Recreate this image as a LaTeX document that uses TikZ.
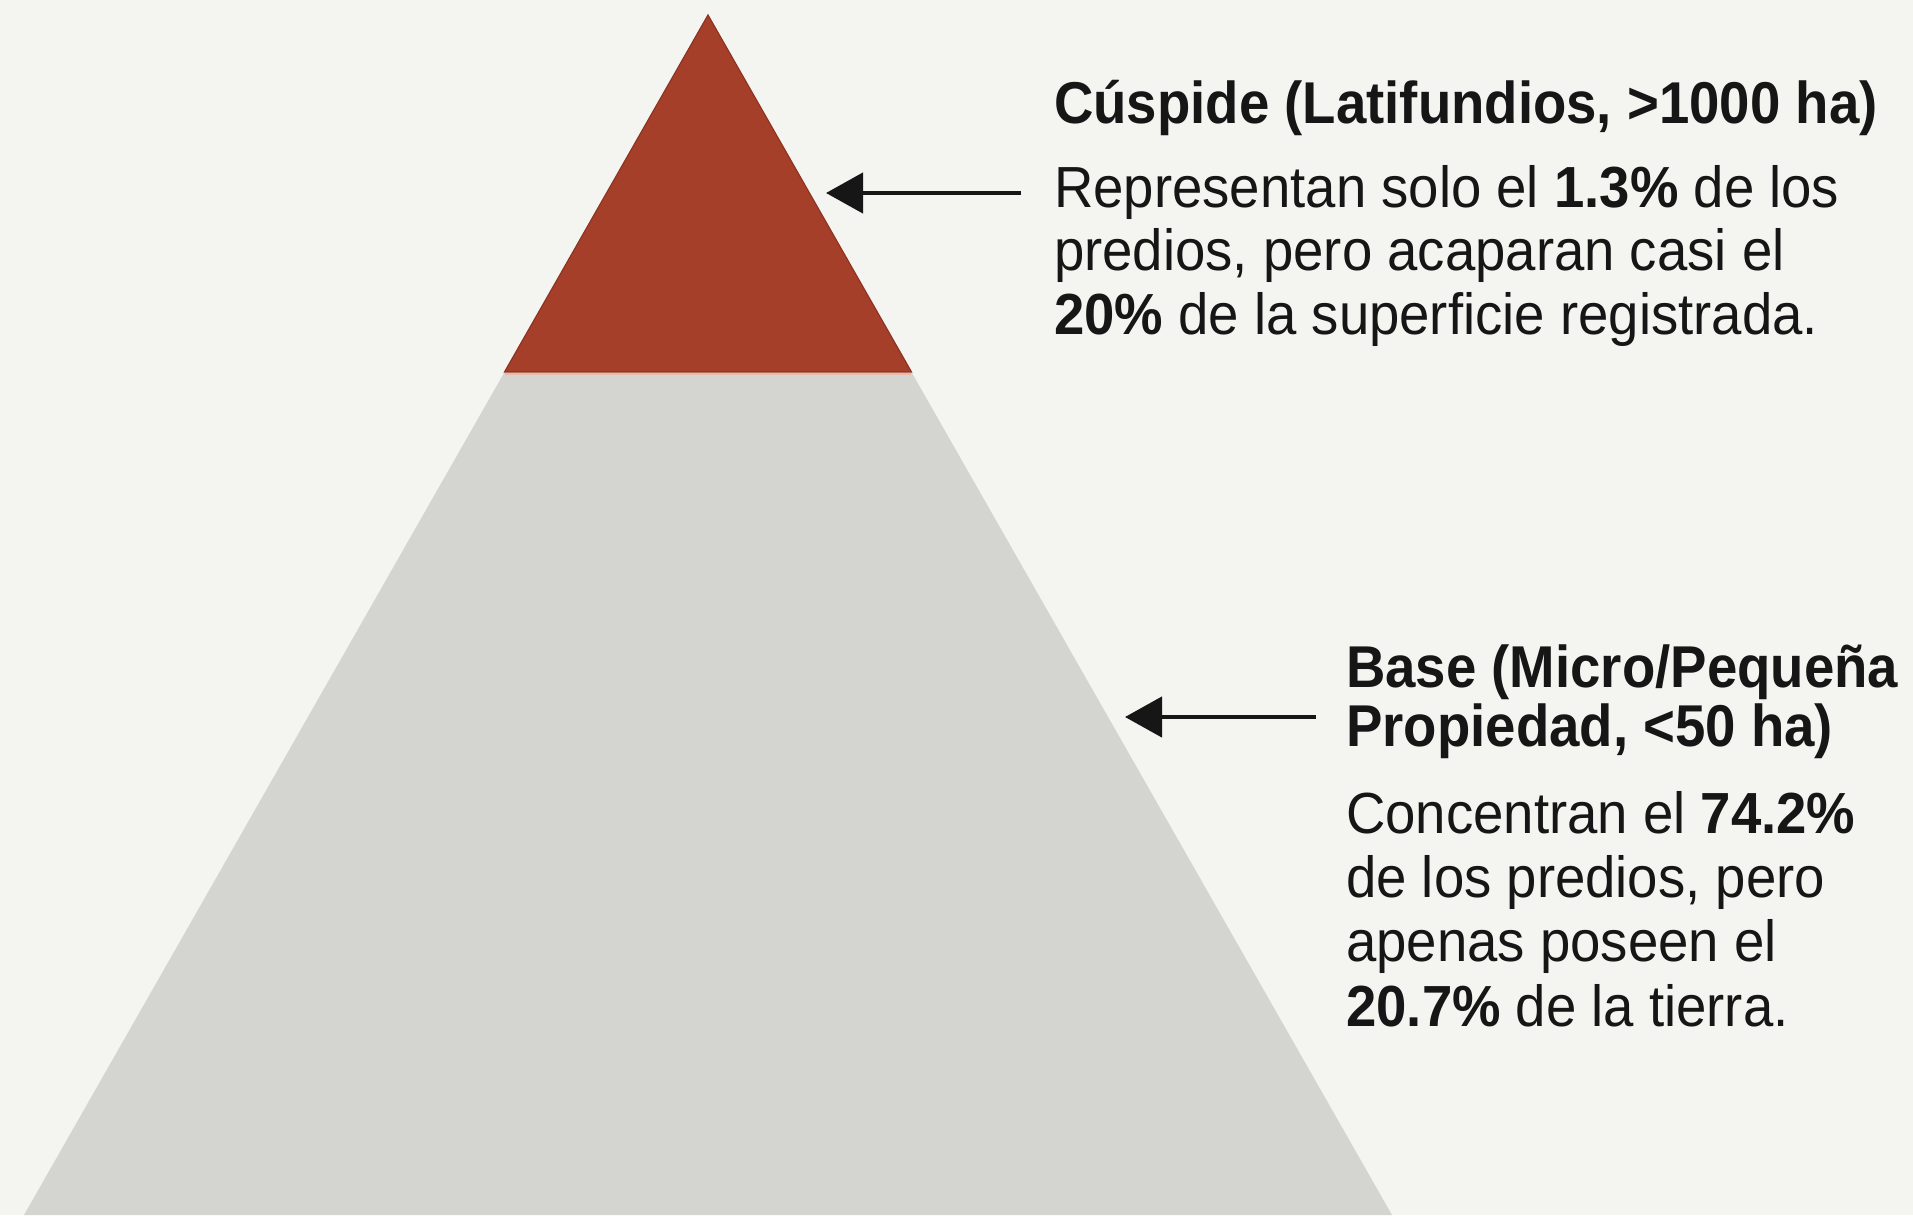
\documentclass[tikz,border=0pt]{standalone}
\usepackage{fontspec}
\setmainfont{Liberation Sans}
\newfontfamily\ttlfont{Liberation Sans}[FakeStretch=0.925]
\newfontfamily\bdyfont{Liberation Sans}[FakeStretch=0.94]
\usetikzlibrary{arrows.meta}
\definecolor{bgc}{HTML}{F4F5F0}
\definecolor{redc}{HTML}{A53F29}
\definecolor{redd}{HTML}{8E3322}
\definecolor{grayc}{HTML}{D4D4D0}
\definecolor{pinkc}{HTML}{EDB8A6}
\definecolor{inkc}{HTML}{161616}
\tikzset{
  ttl/.style={anchor=base west, inner sep=0pt, text=inkc, font=\ttlfont\fontsize{59}{62}\selectfont\bfseries},
  bdy/.style={anchor=base west, inner sep=0pt, text=inkc, font=\bdyfont\fontsize{58}{62}\selectfont},
  ptr/.style={draw=inkc, line width=4.5pt, -{Triangle[length=37pt,width=40pt]}}
}
\begin{document}
\begin{tikzpicture}[x=1pt,y=-1pt]
\useasboundingbox (0,0) rectangle (1913,1215);
\fill[bgc] (0,0) rectangle (1913,1215);
% pyramid
\coordinate (apex) at (708,15);
\coordinate (rl) at (504.5,372);
\coordinate (rr) at (911.5,372);
\coordinate (gl) at (504,373);
\coordinate (gr) at (912,373);
\coordinate (bl) at (24,1215);
\coordinate (br) at (1392,1215);
\fill[grayc] (gl) -- (gr) -- (br) -- (bl) -- cycle;
\filldraw[fill=redc, draw=redd, line width=1.2pt, line join=miter] (apex) -- (rr) -- (rl) -- cycle;
\draw[pinkc, line width=2pt] (505,373.5) -- (911,373.5);
% top text
\node[ttl] (t1) at (1054,123) {Cúspide (Latifundios, >1000 ha)};
\node[bdy] (t2) at (1054,207) {Representan solo el \textbf{1.3\%} de los};
\node[bdy] (t3) at (1054,270) {predios, pero acaparan casi el};
\node[bdy] (t4) at (1054,334) {\textbf{20\%} de la superficie registrada.};
% bottom text
\node[ttl] (b1) at (1346,687) {Base (Micro/Pequeña};
\node[ttl] (b2) at (1346,746) {Propiedad, <50 ha)};
\node[bdy] (b3) at (1346,833) {Concentran el \textbf{74.2\%}};
\node[bdy] (b4) at (1346,897) {de los predios, pero};
\node[bdy] (b5) at (1346,961) {apenas poseen el};
\node[bdy] (b6) at (1346,1026) {\textbf{20.7\%} de la tierra.};
% arrows
\coordinate (a1s) at (1021,193);
\coordinate (a1e) at (826,193);
\coordinate (a2s) at (1316,717);
\coordinate (a2e) at (1125,717);
\draw[ptr] (a1s) -- (a1e);
\draw[ptr] (a2s) -- (a2e);
\end{tikzpicture}
\end{document}
